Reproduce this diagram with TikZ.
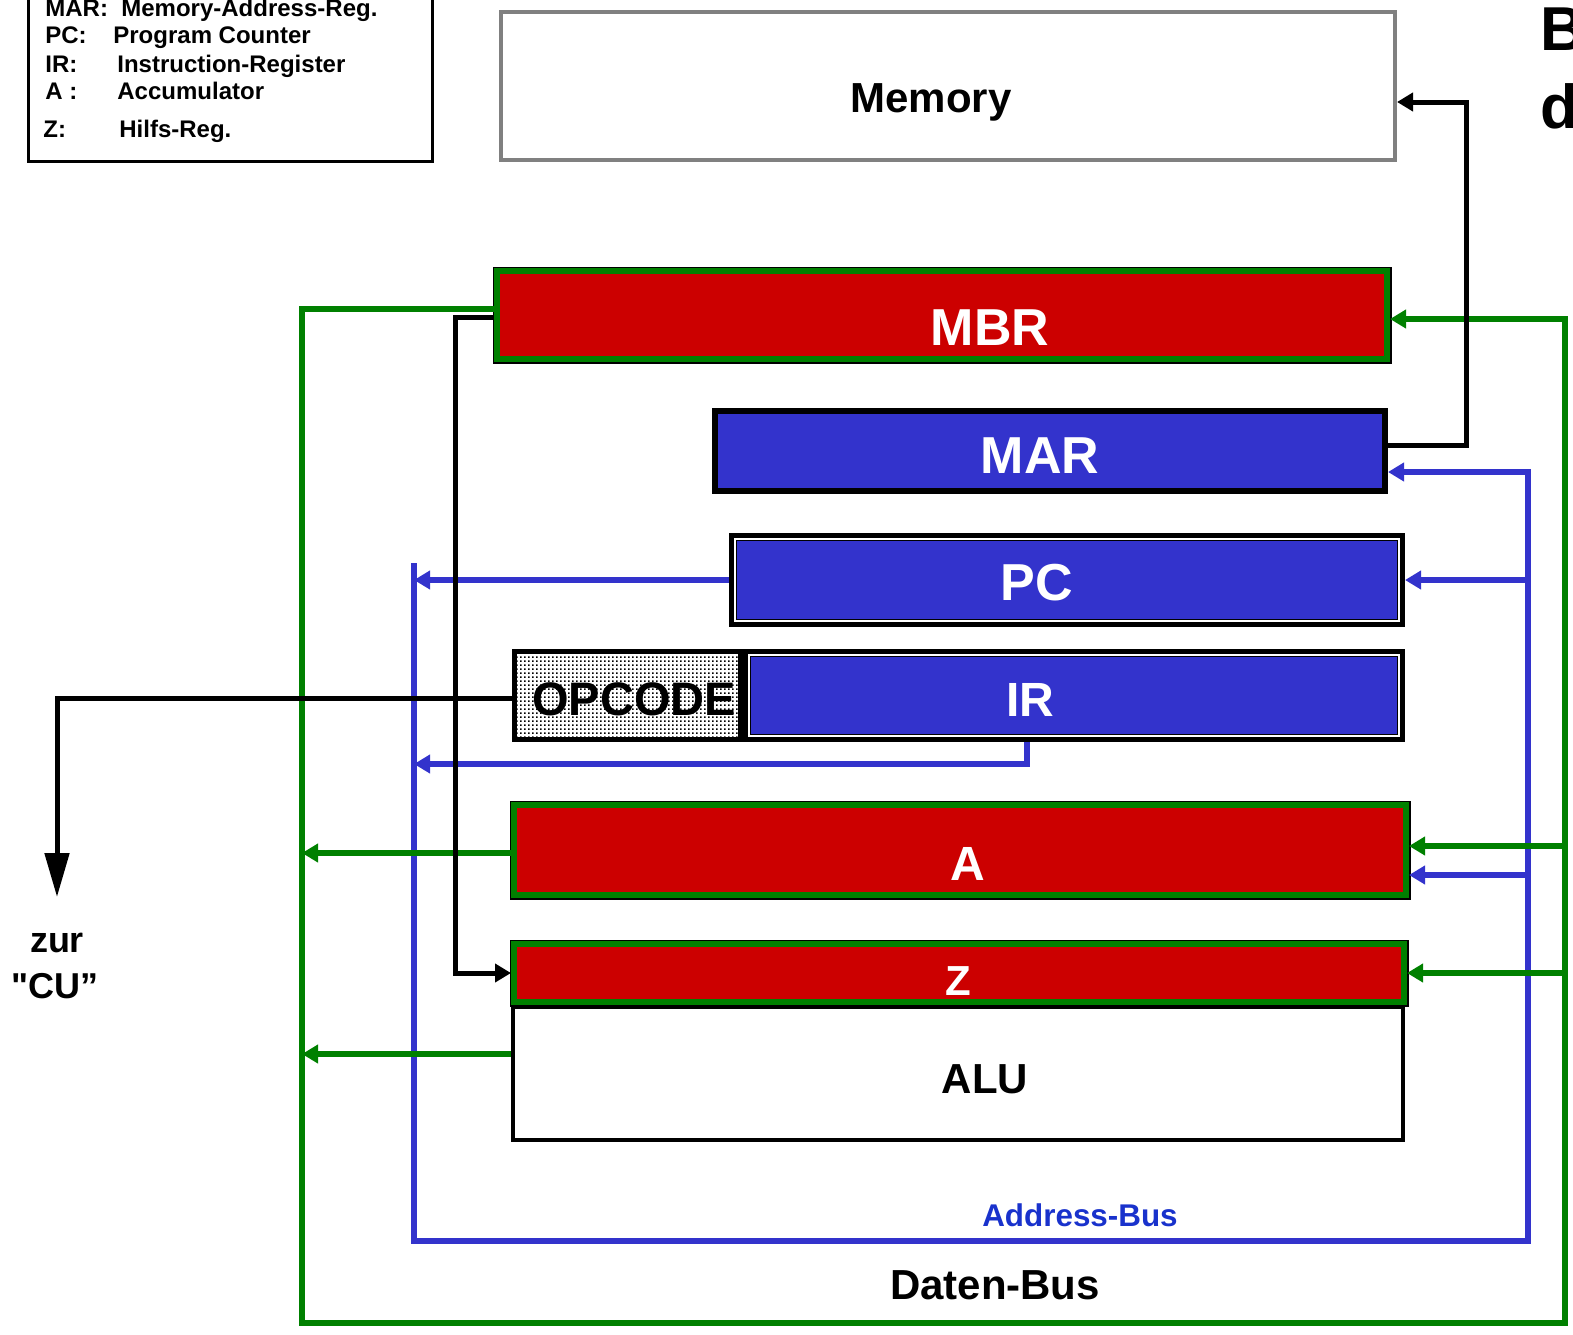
\documentclass[tikz,border=0pt]{standalone}
\usepackage{fontspec}
\setmainfont{Liberation Sans}[Ligatures=TeXOff]
\usetikzlibrary{arrows.meta,patterns}

\definecolor{regred}{RGB}{204,0,0}
\definecolor{regblue}{RGB}{51,51,204}
\definecolor{busgreen}{RGB}{0,128,0}
\definecolor{memgray}{RGB}{128,128,128}
\definecolor{addrtext}{RGB}{25,50,204}

\pgfdeclarepatternformonly{finedots}{\pgfpointorigin}{\pgfpoint{2pt}{2pt}}{\pgfpoint{2pt}{2pt}}%
  {\pgfpathrectangle{\pgfpointorigin}{\pgfpoint{1pt}{1pt}}\pgfusepath{fill}}

\tikzset{
  redreg/.style={fill=regred, draw=busgreen, line width=3pt,
    preaction={draw=black, line width=4.5pt}, inner sep=0pt},
  dblreg/.style={draw=black, line width=2.5pt, fill=white, inner sep=0pt,
    path picture={\fill[regblue, draw=black, line width=0.5pt]
      ([shift={(2.5pt,-2.5pt)}]path picture bounding box.north west) rectangle
      ([shift={(-2.5pt,2.5pt)}]path picture bounding box.south east);}},
  regtext/.style={anchor=base, inner sep=0pt, text=white,
    font=\bfseries\fontsize{26}{30}\selectfont},
  bigtext/.style={anchor=base, inner sep=0pt,
    font=\bfseries\fontsize{21}{25}\selectfont},
  legtext/.style={anchor=base west, inner sep=0pt,
    font=\bfseries\fontsize{12}{14}\selectfont},
}

\begin{document}
\begin{tikzpicture}[x=0.5pt, y=-0.5pt,
    abus/.style={draw=regblue, line width=2.8pt},
    dbus/.style={draw=busgreen, line width=2.8pt},
    ctrl/.style={draw=black, line width=2.5pt},
    bustip/.style={-{Triangle[length=8pt,width=9pt]}}]

    \useasboundingbox (0,0) rectangle (1573,1334);

    % legend
    \draw[line width=1.5pt] (28,-20) rectangle (432,161);
    \foreach \y/\k/\kx/\v/\vx [count=\i] in {16/MAR:/45/Memory-Address-Reg./121,
        43/PC:/45/Program Counter/113, 72/IR:/45/Instruction-Register/117,
        99/A :/45/Accumulator/117, 137/Z:/43/Hilfs-Reg./119}
    {
        \node[legtext] (key\i) at (\kx,\y) {\k};
        \node[legtext] (desc\i) at (\vx,\y) {\v};
    }

    \node[anchor=base west, inner sep=0pt, font=\bfseries\fontsize{31}{36}\selectfont] (ttl1) at (1540,50) {B};
    \node[anchor=base west, inner sep=0pt, font=\bfseries\fontsize{31}{36}\selectfont] (ttl2) at (1540,128) {d};

    % memory
    \node[draw=memgray, line width=2pt, minimum width=447pt, minimum height=74pt, inner sep=0pt] (mem) at (948,86) {};
    \node[bigtext] (meml) at (931,112) {Memory};

    % registers
    \node[redreg, minimum width=445pt, minimum height=44pt] (mbr) at (942,315) {};
    \node[regtext] (mbrl) at (990,345) {MBR};

    \node[fill=regblue, draw=black, line width=3pt, minimum width=335pt, minimum height=40pt, inner sep=0pt] (mar) at (1050,451) {};
    \node[regtext] (marl) at (1040,473) {MAR};

    \node[dblreg, minimum width=335.5pt, minimum height=44.5pt] (pc) at (1067,580) {};
    \node[regtext] (pcl) at (1037,600) {PC};

    \node[dblreg, minimum width=328.5pt, minimum height=44pt] (ir) at (1074,695.5) {};
    \node[regtext, font=\bfseries\fontsize{24}{28}\selectfont] (irl) at (1030,716) {IR};

    \node[draw=black, line width=2.5pt, pattern=finedots, minimum width=113pt, minimum height=44pt, inner sep=0pt] (opc) at (627.5,695.5) {};
    \node[bigtext, font=\bfseries\fontsize{23.5}{28}\selectfont] (opcl) at (634,715) {OPCODE};

    \node[draw=black, line width=2pt, fill=white, minimum width=445pt, minimum height=66.5pt, inner sep=0pt] (alu) at (958,1073.5) {};
    \node[bigtext] (alul) at (985,1093) {ALU};

    \node[redreg, minimum width=446pt, minimum height=45pt] (a) at (960,850) {};
    \node[regtext, font=\bfseries\fontsize{24}{28}\selectfont] (al) at (968,880) {A};

    \node[redreg, minimum width=445pt, minimum height=29pt] (z) at (959,973) {};
    \node[regtext, font=\bfseries\fontsize{21}{25}\selectfont] (zl) at (958,995) {Z};

    % address bus
    \coordinate (abtop) at (414,563);
    \coordinate (abbl) at (414,1241);
    \coordinate (abbr) at (1528,1241);
    \coordinate (abtr) at (1528,472);
    \draw[abus, bustip] (abtop) -- (abbl) -- (abbr) -- (abtr) -- (abtr -| mar.east);
    \draw[abus, bustip] (abbr |- pc.east) -- (pc.east);
    \coordinate (ain) at ([yshift=-12.5pt]a.east);
    \draw[abus, bustip] (ain -| abbr) -- (ain);
    \draw[abus, bustip] (pc.west) -- (pc.west -| abtop);
    \coordinate (irout) at ([xshift=-23.5pt]ir.south);
    \coordinate (irbus) at ([yshift=-11pt]ir.south);
    \draw[abus, bustip] (irout) |- (irbus -| abtop);
    \node[anchor=base, inner sep=0pt, text=addrtext, font=\bfseries\fontsize{15.7}{19}\selectfont] (abl) at (1080,1226) {Address-Bus};

    % data bus
    \coordinate (dbtl) at (302,309);
    \coordinate (dbbl) at (302,1323);
    \coordinate (dbbr) at (1565,1323);
    \coordinate (mbrin) at ([yshift=-2pt]mbr.east);
    \draw[dbus, bustip] ([yshift=3pt]mbr.west) -- (dbtl) -- (dbbl) -- (dbbr) -- (dbbr |- mbrin) -- (mbrin);
    \coordinate (aout) at ([yshift=-1.5pt]a.west);
    \draw[dbus, bustip] (aout) -- (aout -| dbtl);
    \coordinate (aluout) at ([yshift=9.75pt]alu.west);
    \draw[dbus, bustip] (aluout) -- (aluout -| dbtl);
    \coordinate (adin) at ([yshift=2pt]a.east);
    \draw[dbus, bustip] (adin -| dbbr) -- (adin);
    \draw[dbus, bustip] (z.east -| dbbr) -- (z.east);
    \node[bigtext] (dbl) at (995,1299) {Daten-Bus};

    % control lines
    \coordinate (mbrout) at ([yshift=-1pt]mbr.west);
    \draw[ctrl, bustip] (mbrout) -- ++(-39,0) |- (z.west);
    \coordinate (marout) at ([yshift=3pt]mar.east);
    \coordinate (memin) at ([yshift=-8pt]mem.east);
    \draw[ctrl, bustip] (marout) -- ++(78,0) |- (memin);
    \coordinate (opcout) at ([yshift=-1.25pt]opc.west);
    \coordinate (cuin) at (57,897);
    \draw[ctrl, -{Triangle[length=22pt,width=12pt]}] (opcout) -| (cuin);
    \node[anchor=base, inner sep=0pt, font=\bfseries\fontsize{18}{22}\selectfont] (cu1) at (57,952) {zur};
    \node[anchor=base, inner sep=0pt, font=\bfseries\fontsize{18}{22}\selectfont] (cu2) at (55,998) {"CU”};

\end{tikzpicture}
\end{document}
